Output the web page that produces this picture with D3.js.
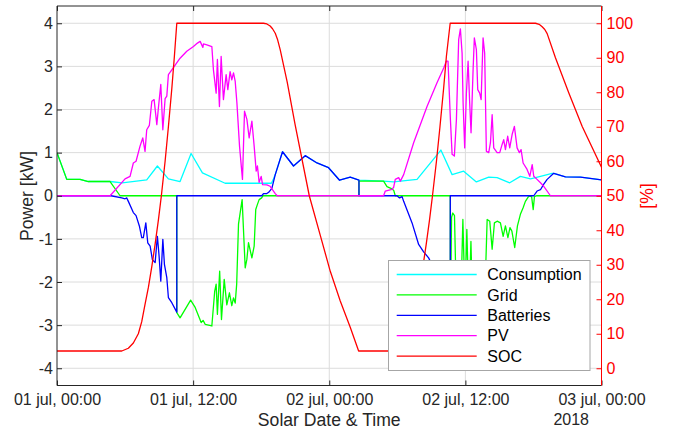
<!DOCTYPE html>
<html><head><meta charset="utf-8">
<script src="https://cdn.jsdelivr.net/npm/d3@7"></script>
<style>
body{margin:0;background:#fff}
svg{display:block;font-family:"Liberation Sans",Arial,Helvetica,sans-serif}
</style></head><body>
<svg id="c" width="675" height="432"></svg>
<script>
// ---- data (hours since 01 jul 00:00) ----
const tickHours = [0, 12, 24, 36, 48];
const tickLabels = ["01 jul, 00:00", "01 jul, 12:00", "02 jul, 00:00", "02 jul, 12:00", "03 jul, 00:00"];
const yearLabel = "2018";
const powerTicks = [-4, -3, -2, -1, 0, 1, 2, 3, 4];
const socTicks = [0, 10, 20, 30, 40, 50, 60, 70, 80, 90, 100];
const seriesNames = ["Consumption", "Grid", "Batteries", "PV", "SOC"];

const consumption = [[0,1.00],[0.86,0.38],[2.03,0.38],[2.76,0.33],[4.68,0.33],[5.74,0.30],[7.91,0.37],[8.85,0.69],[9.82,0.39],[10.85,0.33],[11.82,0.98],[12.82,0.53],[14.82,0.29],[18.90,0.29],[19.08,0.39],[19.24,0.49],[19.88,1.02],[20.85,0.69],[21.88,0.93],[22.92,0.76],[23.94,0.65],[24.91,0.36],[25.85,0.43],[26.62,0.36],[28.79,0.34],[29.67,0.32],[31.74,0.38],[33.84,1.06],[34.83,0.49],[35.85,0.57],[36.97,0.32],[38.06,0.43],[38.80,0.42],[39.91,0.30],[40.85,0.45],[41.74,0.39],[42.62,0.45],[43.65,0.52],[43.79,0.52],[44.82,0.44],[46.15,0.43],[48,0.37]];

const grid = [[0,1.00],[0.86,0.38],[2.03,0.38],[2.76,0.33],[4.68,0.33],[5.56,0],[10.56,0],[10.56,-2.71],[10.85,-2.83],[11.78,-2.42],[12.18,-2.59],[12.71,-2.94],[12.88,-2.89],[13.06,-2.98],[13.65,-3.02],[13.90,-2.22],[14.03,-2.05],[14.14,-2.75],[14.34,-1.75],[14.50,-2.87],[14.74,-1.94],[14.97,-2.53],[15.20,-2.25],[15.41,-2.55],[15.56,-2.37],[15.71,-2.49],[15.84,-2.05],[16.00,-0.66],[16.32,-0.09],[16.59,-1.67],[16.74,-1.47],[16.88,-1.09],[17.18,-1.44],[17.38,-1.17],[17.52,-0.32],[17.67,-0.20],[17.82,-0.09],[18.04,-0.05],[18.17,0],[26.62,0],[26.62,0.34],[28.79,0.34],[29.09,0.21],[29.53,0.16],[29.69,0.12],[29.82,0],[34.67,0],[34.67,-3.3],[34.78,-0.50],[34.89,-0.40],[35.04,-0.46],[35.20,-2.4],[35.38,-3.1],[35.56,-2.86],[35.78,-0.55],[35.96,-2.4],[36.13,-0.78],[36.31,-2.63],[36.49,-1.06],[36.66,-2.86],[36.97,-3.2],[37.32,-2.98],[37.68,-2.63],[37.92,-0.55],[38.15,-0.59],[38.36,-1.24],[38.56,-0.63],[38.80,-0.59],[39.09,-0.63],[39.33,-0.94],[39.53,-0.70],[39.75,-0.97],[39.93,-0.74],[40.10,-0.82],[40.35,-1.20],[40.59,-0.70],[40.85,-0.43],[41.09,-0.28],[41.29,-0.13],[41.59,-0.01],[41.84,-0.02],[41.98,-0.32],[42.09,-0.02],[42.27,0],[48,0]];

const batteries = [[0,0],[4.76,0],[5.71,-0.05],[6.00,-0.07],[6.15,-0.05],[6.29,-0.13],[6.73,-0.39],[6.97,-0.46],[7.26,-0.70],[7.47,-0.97],[7.61,-0.97],[7.83,-0.63],[8.00,-1.09],[8.21,-1.17],[8.41,-1.48],[8.65,-1.55],[8.85,-0.94],[9.00,-1.40],[9.15,-1.98],[9.33,-1.01],[9.47,-1.59],[9.68,-1.90],[9.82,-2.36],[10.12,-2.48],[10.50,-2.67],[10.56,-2.70],[10.56,0],[18.06,0],[18.20,0.05],[18.50,0.05],[18.66,0.08],[18.94,0.17],[19.24,0.49],[19.88,1.02],[20.85,0.69],[21.88,0.93],[22.92,0.76],[23.94,0.65],[24.91,0.36],[25.85,0.43],[26.62,0.36],[26.62,0],[29.97,0],[30.20,-0.05],[30.42,-0.02],[30.56,-0.13],[31.30,-0.63],[31.88,-1.13],[32.32,-1.30],[32.76,-1.44],[33.35,-1.75],[33.97,-2.05],[34.67,-2.40],[34.67,0],[42.03,0],[42.32,0.11],[42.62,0.14],[42.91,0.27],[43.21,0.38],[43.79,0.52],[44.82,0.44],[46.15,0.43],[48,0.37]];

const pv = [[0,0],[4.68,0],[6.00,0.39],[6.44,0.45],[6.73,0.76],[6.97,0.80],[7.32,1.15],[7.56,1.34],[7.76,1.03],[7.91,1.53],[8.14,1.63],[8.36,2.19],[8.56,2.23],[8.80,1.65],[8.94,2.04],[9.15,2.58],[9.33,1.53],[9.53,2.25],[9.68,2.31],[9.82,2.81],[10.12,2.92],[10.85,3.19],[11.44,3.35],[12.03,3.46],[12.38,3.54],[12.62,3.58],[12.86,3.44],[12.91,3.52],[13.21,3.50],[13.65,3.46],[13.79,2.92],[14.03,2.38],[14.14,3.16],[14.32,2.07],[14.47,3.23],[14.67,2.23],[14.91,2.81],[15.06,2.46],[15.26,2.88],[15.41,2.69],[15.56,2.85],[15.71,2.65],[15.86,2.15],[16.09,1.15],[16.35,0.38],[16.53,1.96],[16.74,1.77],[16.94,1.34],[17.18,1.73],[17.38,1.15],[17.56,0.57],[17.67,0.69],[17.82,0.31],[18.00,0.45],[18.12,0.26],[18.50,0.25],[18.79,0.22],[19.24,0.05],[19.41,0],[28.79,0],[28.94,0.11],[29.53,0.15],[29.67,0.19],[29.82,0.38],[30.12,0.42],[30.27,0.34],[30.56,0.49],[31.44,1.23],[32.62,2.07],[33.50,2.62],[34.09,2.96],[34.32,3.12],[34.47,3.12],[34.68,1.77],[34.83,0.96],[35.03,0.92],[35.21,1.77],[35.41,3.62],[35.56,3.87],[35.71,3.31],[35.80,2.15],[35.94,1.11],[36.09,2.38],[36.24,3.12],[36.38,2.15],[36.50,1.46],[36.68,2.92],[36.79,3.66],[36.97,3.39],[37.09,2.46],[37.26,2.38],[37.39,2.23],[37.56,3.66],[37.70,3.31],[37.85,1.03],[38.06,1.00],[38.21,1.23],[38.36,1.88],[38.50,1.11],[38.80,1.00],[39.03,1.00],[39.24,1.19],[39.38,1.30],[39.53,1.07],[39.73,1.38],[39.91,1.11],[40.12,1.42],[40.32,1.61],[40.56,1.11],[40.76,1.00],[40.91,1.07],[41.09,0.76],[41.44,0.61],[41.68,0.45],[41.89,0.72],[42.03,0.45],[42.32,0.38],[42.62,0.30],[42.91,0.22],[43.50,0],[48,0]];

const soc = [[0,5],[5.71,5],[6.29,5.8],[6.73,7.3],[7.17,10],[7.47,13.5],[7.76,18.5],[8.06,23.5],[8.36,29.5],[8.65,36],[8.94,43],[9.2,50],[9.53,60],[9.82,70],[10.12,81],[10.35,90.5],[10.56,100],[18.2,100],[18.5,99.8],[18.79,99.2],[19.0,98.4],[19.24,97.1],[19.45,95.2],[19.68,92.3],[20.29,83.0],[20.99,70.6],[22.24,50.0],[23.21,38.5],[24.09,28.1],[24.97,19.5],[25.85,11.9],[26.59,5],[29.61,5],[30.19,5.8],[30.63,7.3],[31.07,10],[31.37,13.5],[31.66,18.5],[31.96,23.5],[32.26,29.5],[32.55,36],[32.84,43],[33.1,50],[33.45,60],[33.76,70],[34.08,81],[34.33,90.5],[34.66,100],[42.18,100],[42.5,99.7],[42.77,99],[43.0,98.2],[43.21,97],[43.94,90],[45.12,79.8],[46.30,70.1],[48,58.3]];

// ---- layout ----
const L = 57, R = 601.5, T = 6, B = 385.5;
const axisColor = "#262626", gridColor = "#dcdcdc";
const colors = {Consumption:"#00ffff", Grid:"#00ff00", Batteries:"#0000ff", PV:"#ff00ff", SOC:"#ff0000"};

const svg = d3.select("#c");
const x = d3.scaleLinear().domain([0, 48]).range([L, R]);
const yL = d3.scaleLinear().domain([-4.4, 4.4]).range([B, T]);
const yR = d3.scaleLinear().domain([-5, 105]).range([B, T]);

svg.append("defs").append("clipPath").attr("id","clip")
  .append("rect").attr("x",L).attr("y",T).attr("width",R-L).attr("height",B-T);

// grid
const gg = svg.append("g");
gg.selectAll(".gh").data(powerTicks).join("line")
  .attr("x1",L).attr("x2",R).attr("y1",d=>yL(d)).attr("y2",d=>yL(d))
  .attr("stroke",gridColor).attr("stroke-width",1);
gg.selectAll(".gv").data(tickHours.slice(1,-1)).join("line")
  .attr("y1",T).attr("y2",B).attr("x1",d=>x(d)).attr("x2",d=>x(d))
  .attr("stroke",gridColor).attr("stroke-width",1);

// lines
const lineL = d3.line().x(d=>x(d[0])).y(d=>yL(d[1]));
const lineR = d3.line().x(d=>x(d[0])).y(d=>yR(d[1]));
const plot = svg.append("g").attr("clip-path","url(#clip)");
const leftSeries = [["Consumption",consumption],["Grid",grid],["Batteries",batteries],["PV",pv]];
leftSeries.forEach(([n,d])=>{
  plot.append("path").datum(d).attr("d",lineL).attr("fill","none")
    .attr("stroke",colors[n]).attr("stroke-width",1.3).attr("stroke-linejoin","round");
});
plot.append("path").datum(soc).attr("d",lineR).attr("fill","none")
  .attr("stroke",colors.SOC).attr("stroke-width",1.3).attr("stroke-linejoin","round");

// axes
const fs = 16;
const plain = d => String(d);
const ax = svg.append("g").attr("transform",`translate(${L},0)`)
  .call(d3.axisLeft(yL).tickValues(powerTicks).tickFormat(plain).tickSizeInner(-5).tickSizeOuter(0).tickPadding(4));
const axB = svg.append("g").attr("transform",`translate(0,${B})`)
  .call(d3.axisBottom(x).tickValues(tickHours).tickFormat((d,i)=>tickLabels[i]).tickSizeInner(-5).tickSizeOuter(0).tickPadding(8));
const axT = svg.append("g").attr("transform",`translate(0,${T})`)
  .call(d3.axisTop(x).tickValues(tickHours).tickFormat("").tickSizeInner(-5).tickSizeOuter(0));
const axR = svg.append("g").attr("transform",`translate(${R},0)`)
  .call(d3.axisRight(yR).tickValues(socTicks).tickFormat(plain).tickSizeInner(-5).tickSizeOuter(0).tickPadding(5));

[ax,axB,axT].forEach(g=>{
  g.selectAll("line").attr("stroke",axisColor);
  g.selectAll("text").attr("fill",axisColor).attr("font-size",fs).attr("font-family","Liberation Sans, Arial, sans-serif");
  g.select(".domain").remove();
});
axR.selectAll("line").attr("stroke","#ff0000");
axR.selectAll("text").attr("fill","#ff0000").attr("font-size",fs).attr("font-family","Liberation Sans, Arial, sans-serif");
axR.select(".domain").remove();

// box
svg.append("line").attr("x1",L).attr("x2",L).attr("y1",T).attr("y2",B).attr("stroke",axisColor);
svg.append("line").attr("x1",L).attr("x2",R).attr("y1",B).attr("y2",B).attr("stroke",axisColor);
svg.append("line").attr("x1",L).attr("x2",R).attr("y1",T).attr("y2",T).attr("stroke",axisColor);
svg.append("line").attr("x1",R).attr("x2",R).attr("y1",T).attr("y2",B).attr("stroke","#ff0000");

// labels
svg.append("text").attr("x",(L+R)/2).attr("y",426).attr("text-anchor","middle")
  .attr("font-size",17.6).attr("fill",axisColor).text("Solar Date & Time");
svg.append("text").attr("x",589).attr("y",425).attr("text-anchor","end")
  .attr("font-size",fs).attr("fill",axisColor).text(yearLabel);
svg.append("text").attr("transform","translate(33,196) rotate(-90)").attr("text-anchor","middle")
  .attr("font-size",17.6).attr("fill",axisColor).text("Power [kW]");
svg.append("text").attr("transform","translate(653,196) rotate(-90)").attr("text-anchor","middle")
  .attr("font-size",17.6).attr("fill","#ff0000").text("[%]");

// legend
const lg = svg.append("g");
lg.append("rect").attr("x",388.5).attr("y",260.5).attr("width",201.5).attr("height",110)
  .attr("fill","#fff").attr("stroke","#a6a6a6").attr("stroke-width",1);
seriesNames.forEach((n,i)=>{
  const yy = 274.5 + i*20.4;
  lg.append("line").attr("x1",396.7).attr("x2",476.7).attr("y1",yy).attr("y2",yy)
    .attr("stroke",colors[n]).attr("stroke-width",1.3);
  lg.append("text").attr("x",487.3).attr("y",yy+5.6).attr("font-size",fs).attr("fill","#000").text(n);
});
</script>
</body></html>
